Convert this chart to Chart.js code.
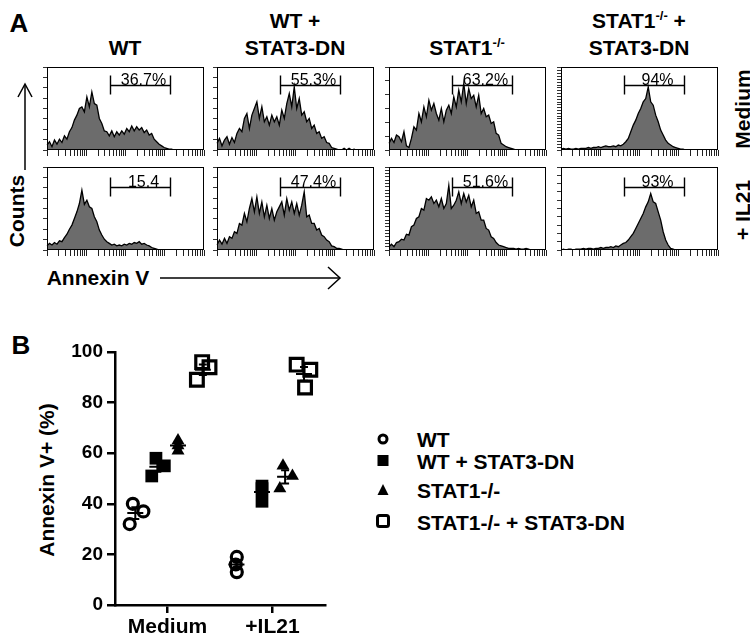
<!DOCTYPE html>
<html>
<head>
<meta charset="utf-8">
<script src="https://cdn.jsdelivr.net/npm/chart.js@4.4.0/dist/chart.umd.min.js"></script>
<style>
body { margin: 0; background: #fff; font-family: Arial, "Liberation Sans", Helvetica, sans-serif; }
#page { position: relative; width: 750px; height: 640px; overflow: hidden; background: #fff; }
canvas { position: absolute; }
.t { position: absolute; font-weight: bold; font-size: 21px; color: #000; white-space: nowrap; line-height: 1; transform: translate(-50%, -50%); }
.rot { transform: translate(-50%, -50%) rotate(-90deg); }
.lg { position: absolute; font-weight: bold; font-size: 21px; line-height: 1; white-space: nowrap; transform: translateY(-50%); }
sup { font-size: 13px; vertical-align: 8px; line-height: 0; }
svg { position: absolute; left: 0; top: 0; }
</style>
</head>
<body>
<div id="page">
  <div class="t" style="left:19px;top:23px;font-size:26px">A</div>
  <div class="t" style="left:21px;top:345px;font-size:26px">B</div>

  <div class="t" style="left:125px;top:47px">WT</div>
  <div class="t" style="left:295px;top:20px">WT +</div>
  <div class="t" style="left:295px;top:47px">STAT3-DN</div>
  <div class="t" style="left:467px;top:47px">STAT1<sup>-/-</sup></div>
  <div class="t" style="left:639px;top:20px">STAT1<sup>-/-</sup> +</div>
  <div class="t" style="left:639px;top:47px">STAT3-DN</div>

  <div class="t rot" style="left:742px;top:109px">Medium</div>
  <div class="t rot" style="left:742px;top:210px">+ IL21</div>
  <div class="t rot" style="left:16px;top:211px">Counts</div>
  <div class="t" style="left:98px;top:277px">Annexin V</div>
  <div class="t rot" style="left:46px;top:480px">Annexin V+ (%)</div>

  <div class="lg" style="left:417px;top:439px">WT</div>
  <div class="lg" style="left:417px;top:461px">WT + STAT3-DN</div>
  <div class="lg" style="left:417px;top:490px">STAT1-/-</div>
  <div class="lg" style="left:417px;top:522px">STAT1-/- + STAT3-DN</div>

  <svg width="750" height="640">
    <g stroke="#000" stroke-width="1.5" fill="none">
      <line x1="25" y1="170" x2="25" y2="85"/>
      <polyline points="18,97 25,84 32,97"/>
      <line x1="160" y1="278" x2="339" y2="278"/>
      <polyline points="328,267 340,278 328,289"/>
    </g>
    <circle cx="383" cy="439" r="4" stroke="#000" stroke-width="3" fill="none"/>
    <rect x="377.5" y="455" width="11" height="11" fill="#000"/>
    <polygon points="383,484 388.5,495 377.5,495" fill="#000"/>
    <rect x="377.5" y="515.5" width="11" height="11" rx="2" stroke="#000" stroke-width="3" fill="none"/>
  </svg>
</div>

<script>
// ---- panel A: Annexin V histograms (64 bins across the 4-decade axis, counts as % of panel height)
const histWtMedium = [6, 10, 4, 12, 7, 13, 9, 17, 13, 22,
  27, 36, 42, 50, 52, 46, 64, 52, 70, 56,
  54, 38, 32, 23, 22, 17, 23, 16, 22, 18,
  23, 19, 26, 22, 29, 23, 28, 24, 27, 21,
  24, 18, 20, 13, 10, 7, 5, 3, 2, 1,
  1, 0, 0, 0, 0, 0, 0, 0, 0, 0, 0, 0, 0, 0];
const histWtDnMedium = [8, 14, 5, 12, 16, 7, 15, 9, 20, 26,
  22, 38, 44, 26, 42, 50, 58, 38, 52, 34,
  40, 30, 42, 34, 40, 30, 48, 38, 56, 68,
  52, 76, 50, 62, 42, 46, 34, 38, 26, 30,
  20, 22, 14, 16, 9, 8, 3, 2, 1, 0,
  0, 2, 0, 2, 0, 1, 0, 0, 0, 0, 0, 0, 0, 0];
const histStat1Medium = [8, 14, 9, 18, 16, 10, 22, 5, 3, 14,
  28, 24, 44, 34, 52, 40, 60, 48, 56, 44,
  36, 50, 34, 48, 54, 44, 64, 52, 72, 58,
  80, 56, 74, 62, 66, 52, 66, 44, 50, 40,
  42, 32, 34, 20, 18, 8, 6, 4, 3, 2,
  1, 0, 0, 0, 0, 0, 0, 0, 0, 0, 0, 0, 0, 0];
const histStat1DnMedium = [1, 2, 1, 2, 1, 1, 2, 1, 2, 2,
  2, 3, 2, 3, 3, 4, 3, 4, 5, 4,
  4, 5, 4, 6, 5, 7, 10, 14, 22, 30,
  36, 44, 50, 58, 62, 76, 58, 54, 42, 34,
  24, 18, 12, 8, 6, 4, 3, 2, 1, 1,
  0, 0, 0, 0, 0, 0, 0, 0, 0, 0, 0, 0, 0, 0];
const histWtIl21 = [5, 8, 6, 9, 7, 11, 10, 15, 19, 25,
  30, 38, 46, 56, 72, 55, 60, 52, 50, 40,
  34, 24, 18, 13, 10, 8, 6, 7, 5, 6,
  5, 7, 6, 8, 7, 9, 8, 10, 7, 8,
  6, 5, 3, 2, 1, 0, 0, 0, 0, 0,
  0, 0, 0, 0, 0, 0, 0, 0, 0, 0, 0, 0, 0, 0];
const histWtDnIl21 = [6, 12, 7, 14, 8, 16, 14, 22, 20, 32,
  30, 44, 34, 50, 62, 46, 64, 44, 58, 40,
  54, 38, 50, 36, 46, 52, 58, 42, 62, 48,
  58, 44, 56, 42, 54, 70, 40, 42, 32, 32,
  24, 26, 18, 16, 12, 10, 5, 4, 2, 2,
  1, 0, 0, 0, 0, 0, 0, 0, 0, 0, 0, 0, 0, 0];
const histStat1Il21 = [4, 7, 4, 9, 10, 13, 12, 19, 18, 28,
  30, 38, 40, 50, 48, 62, 60, 64, 56, 60,
  52, 62, 50, 56, 78, 50, 54, 60, 70, 56,
  68, 58, 66, 52, 60, 44, 46, 36, 36, 26,
  24, 16, 14, 9, 6, 5, 4, 3, 2, 2,
  2, 1, 2, 1, 1, 2, 1, 0, 0, 0, 0, 0, 0, 0];
const histStat1DnIl21 = [0, 1, 0, 1, 1, 0, 1, 1, 1, 2,
  1, 2, 2, 1, 2, 2, 3, 2, 3, 3,
  4, 3, 5, 4, 6, 8, 9, 12, 16, 20,
  26, 32, 38, 44, 52, 58, 68, 58, 56, 46,
  36, 22, 12, 6, 2, 1, 0, 0, 0, 0,
  0, 0, 0, 0, 0, 0, 0, 0, 0, 0, 0, 0, 0, 0];

const gate = [40, 1400];  // Annexin V+ gate on the log axis
const gateLabels = [['36.7%', '55.3%', '63.2%', '94%'], ['15.4', '47.4%', '51.6%', '93%']];
const histRows = [
  [histWtMedium, histWtDnMedium, histStat1Medium, histStat1DnMedium],
  [histWtIl21, histWtDnIl21, histStat1Il21, histStat1DnIl21]
];

// ---- panel B: Annexin V+ (%) per mouse, [Medium, +IL21]
const conditions = ['Medium', '+IL21'];
const wtPct = [[32, 40, 37], [19, 16, 13]];
const wtDnPct = [[51, 58, 55], [47, 41, 46]];
const stat1Pct = [[65, 63, 61], [46, 55, 51]];
const stat1DnPct = [[89, 96, 94], [95, 93, 86]];
// dot position along x (1 = Medium, 2 = +IL21)
const wtX = [[0.64, 0.67, 0.77], [1.66, 1.65, 1.66]];
const wtDnX = [[0.85, 0.89, 0.97], [1.90, 1.90, 1.90]];
const stat1X = [[1.10, 1.10, 1.10], [2.07, 2.10, 2.19]];
const stat1DnX = [[1.28, 1.33, 1.40], [2.23, 2.36, 2.31]];

const page = document.getElementById('page');
const fontFam = 'Arial, "Liberation Sans", Helvetica, sans-serif';

const logTicks = [];
for (let e = 0; e < 4; e++) {
  for (let s = 1; s < 10; s++) logTicks.push(s * Math.pow(10, e));
}
logTicks.push(10000);

const panelFrame = {
  id: 'panelFrame',
  afterDatasetsDraw(chart, args, opts) {
    const { ctx, chartArea: a, scales } = chart;
    ctx.save();
    ctx.strokeStyle = '#000';
    ctx.lineWidth = 1;
    ctx.strokeRect(a.left + 0.5, a.top + 0.5, a.width - 1, a.height - 1);

    const y = Math.round(scales.y.getPixelForValue(opts.gateY)) + 0.5;
    const x1 = Math.round(scales.x2.getPixelForValue(gate[0])) + 0.5;
    const x2 = Math.round(scales.x2.getPixelForValue(gate[1])) + 0.5;
    ctx.lineWidth = 1.4;
    ctx.beginPath();
    ctx.moveTo(x1, y); ctx.lineTo(x2, y);
    ctx.moveTo(x1, y - 10); ctx.lineTo(x1, y + 9);
    ctx.moveTo(x2, y - 10); ctx.lineTo(x2, y + 9);
    ctx.stroke();
    ctx.fillStyle = '#000';
    ctx.font = '16px ' + fontFam;
    ctx.textAlign = 'center';
    ctx.textBaseline = 'alphabetic';
    ctx.fillText(opts.label, (x1 + x2) / 2 + 3, y - 1);
    ctx.restore();
  }
};

const colLeft = [47, 217, 389, 561];
const rowTop = [67, 167];
const panelW = 157, panelH = 83;
const yTickStep = [[12.5, 12.5, 16.7, 3.4], [12.5, 12.5, 4, 10]];
const gateY = [78, 76];

histRows.forEach((row, r) => {
  row.forEach((counts, c) => {
    const cv = document.createElement('canvas');
    cv.width = panelW + 12;
    cv.height = panelH + 11;
    cv.style.left = (colLeft[c] - 8) + 'px';
    cv.style.top = (rowTop[r] - 2) + 'px';
    page.appendChild(cv);
    new Chart(cv, {
      type: 'line',
      data: {
        labels: counts.map((v, i) => i),
        datasets: [{
          data: counts,
          borderColor: '#000',
          borderWidth: 1.3,
          backgroundColor: '#6c6c6c',
          fill: 'origin',
          pointRadius: 0,
          tension: 0
        }]
      },
      options: {
        animation: false,
        responsive: false,
        events: [],
        layout: { padding: { top: 2, right: 4, left: 0, bottom: 0 } },
        plugins: {
          legend: { display: false },
          tooltip: { enabled: false },
          panelFrame: { label: gateLabels[r][c], gateY: gateY[r] }
        },
        scales: {
          x: { display: false },
          x2: {
            type: 'logarithmic', position: 'bottom', min: 1, max: 10000,
            afterBuildTicks: s => { s.ticks = logTicks.map(v => ({ value: v })); },
            ticks: { display: false },
            grid: { drawOnChartArea: false, tickLength: 6, color: '#222' },
            border: { display: false },
            afterFit: s => { s.height = 9; }
          },
          y: {
            min: 0, max: 100,
            ticks: { display: false, stepSize: yTickStep[r][c] },
            grid: { drawOnChartArea: false, tickLength: 4, color: '#333' },
            border: { display: false },
            afterFit: s => { s.width = 8; }
          }
        }
      },
      plugins: [panelFrame]
    });
  });
});

// ---- scatter
const series = [
  { pct: wtPct, pos: wtX, style: 'circle', radius: 5.5, border: 3.2, fill: 'rgba(0,0,0,0)' },
  { pct: wtDnPct, pos: wtDnX, style: 'rect', radius: 9, border: 0, fill: '#000' },
  { pct: stat1Pct, pos: stat1X, style: 'triangle', radius: 7.5, border: 0, fill: '#000' },
  { pct: stat1DnPct, pos: stat1DnX, style: 'rect', radius: 9, border: 3.2, fill: 'rgba(0,0,0,0)' }
];

const meanSem = {
  id: 'meanSem',
  afterDatasetsDraw(chart) {
    const { ctx, scales: { x, y } } = chart;
    ctx.save();
    ctx.strokeStyle = '#000';
    ctx.lineWidth = 2;
    series.forEach(s => {
      s.pct.forEach((vals, c) => {
        const n = vals.length;
        const m = vals.reduce((a, b) => a + b, 0) / n;
        const sd = Math.sqrt(vals.reduce((a, b) => a + (b - m) * (b - m), 0) / (n - 1));
        const sem = sd / Math.sqrt(n);
        const xc = x.getPixelForValue(s.pos[c].reduce((a, b) => a + b, 0) / n);
        const ym = y.getPixelForValue(m), ylo = y.getPixelForValue(m - sem), yhi = y.getPixelForValue(m + sem);
        ctx.beginPath();
        ctx.moveTo(xc - 8, ym); ctx.lineTo(xc + 8, ym);
        ctx.moveTo(xc, ylo); ctx.lineTo(xc, yhi);
        ctx.moveTo(xc - 4, ylo); ctx.lineTo(xc + 4, ylo);
        ctx.moveTo(xc - 4, yhi); ctx.lineTo(xc + 4, yhi);
        ctx.stroke();
      });
    });
    ctx.restore();
  }
};

const cvB = document.createElement('canvas');
cvB.width = 285;
cvB.height = 305;
cvB.style.left = '60px';
cvB.style.top = '335px';
page.appendChild(cvB);

const axisFont = { family: fontFam, size: 19, weight: 'bold' };
new Chart(cvB, {
  type: 'scatter',
  data: {
    datasets: series.map(s => ({
      data: s.pct.flatMap((vals, c) => vals.map((v, i) => ({ x: s.pos[c][i], y: v }))),
      pointStyle: s.style,
      pointRadius: s.radius,
      pointBorderWidth: s.border,
      pointBorderColor: '#000',
      pointBackgroundColor: s.fill
    }))
  },
  options: {
    animation: false,
    responsive: false,
    events: [],
    layout: { padding: { top: 17, right: 20, left: 0, bottom: 0 } },
    plugins: { legend: { display: false }, tooltip: { enabled: false } },
    scales: {
      x: {
        type: 'linear', min: 0.5, max: 2.5,
        afterBuildTicks: s => { s.ticks = conditions.map((c, i) => ({ value: i + 1 })); },
        ticks: { callback: v => conditions[v - 1], font: { family: fontFam, size: 21, weight: 'bold' }, color: '#000', padding: 2, maxRotation: 0 },
        grid: { drawOnChartArea: false, tickLength: 8, color: '#000', lineWidth: 2.5 },
        border: { color: '#000', width: 2.5 },
        afterFit: s => { s.height = 35; }
      },
      y: {
        min: 0, max: 100,
        ticks: { stepSize: 20, font: axisFont, color: '#000', padding: 4 },
        grid: { drawOnChartArea: false, tickLength: 8, color: '#000', lineWidth: 2.5 },
        border: { color: '#000', width: 2.5 },
        afterFit: s => { s.width = 55; }
      }
    }
  },
  plugins: [meanSem]
});
</script>
</body>
</html>
